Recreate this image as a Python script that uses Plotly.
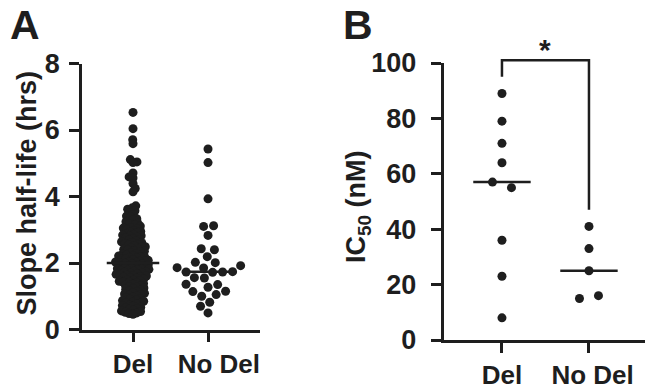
import math
import plotly.graph_objects as go

# ---------------- data ----------------
categories = ["Del", "No Del"]

# Panel A: slope half-life (hrs)
halflife_del = [
    6.53, 6.04, 5.71, 5.59, 5.11, 5.04, 5.02, 4.71, 4.59, 4.56, 4.39, 4.24, 4.14,
    3.72, 3.66, 3.62,
    3.57, 3.52, 3.46, 3.41,
    3.38, 3.33, 3.29, 3.24, 3.21,
    3.18, 3.14, 3.11, 3.07, 3.05, 3.03, 3.01,
    2.98, 2.95, 2.93, 2.91, 2.88, 2.86, 2.84, 2.82, 2.81,
    2.79, 2.76, 2.74, 2.71, 2.69, 2.66, 2.64, 2.62, 2.61,
    2.58, 2.56, 2.55, 2.52, 2.49, 2.47, 2.45, 2.43, 2.41,
    2.39, 2.37, 2.35, 2.33, 2.31, 2.28, 2.26, 2.24, 2.22, 2.21,
    2.19, 2.18, 2.16, 2.15, 2.13, 2.11, 2.10, 2.08, 2.07, 2.05, 2.04, 2.03, 2.02, 2.01,
    1.99, 1.98, 1.96, 1.95, 1.93, 1.92, 1.90, 1.89, 1.87, 1.86, 1.84, 1.83, 1.82, 1.81,
    1.79, 1.78, 1.76, 1.75, 1.73, 1.72, 1.70, 1.69, 1.67, 1.66, 1.64, 1.63, 1.62, 1.61,
    1.59, 1.57, 1.56, 1.54, 1.52, 1.50, 1.48, 1.47, 1.45, 1.43, 1.42, 1.41,
    1.38, 1.36, 1.33, 1.31, 1.29, 1.27, 1.25, 1.23, 1.21,
    1.18, 1.16, 1.14, 1.11, 1.09, 1.07, 1.05, 1.03, 1.01,
    0.98, 0.96, 0.93, 0.91, 0.89, 0.87, 0.85, 0.83, 0.81,
    0.79, 0.77, 0.74, 0.72, 0.70, 0.67, 0.65, 0.63, 0.61,
    0.58, 0.56, 0.54, 0.52, 0.50, 0.48, 0.46,
]
halflife_nodel = [
    5.43, 5.02, 3.93, 3.10, 3.12, 2.83, 2.43, 2.40, 2.19, 2.01, 2.02, 1.92, 1.85,
    1.86, 1.73, 1.74, 1.73, 1.72, 1.55, 1.56, 1.35, 1.27, 1.36, 1.05, 1.15, 1.14,
    1.00, 0.82, 0.70, 0.50,
]

# Panel B: IC50 (nM)
ic50_del = [89, 79, 71, 64, 57, 55, 36, 23, 8]
ic50_nodel = [41, 33, 25, 15, 16]

a_yticks = [0, 2, 4, 6, 8]
b_yticks = [0, 20, 40, 60, 80, 100]
sig_label = "*"

# ---------------- layout geometry ----------------
W, H = 645, 392
INK = "#1e1e1e"
FONT = "Liberation Sans, Arial, sans-serif"
NB = "\u00a0"

A_X0, A_X1 = 82, 260
A_Y0, A_Y1 = 329.5, 63.5          # pixel rows of y=0 and y=8
A_XR = [-0.68, 1.693]
A_YR = [0, 8]

B_X0, B_X1 = 443.5, 645
B_Y0, B_Y1 = 340, 63
B_XR = [-0.672, 1.644]
B_YR = [0, 100]

a_ppx = (A_X1 - A_X0) / (A_XR[1] - A_XR[0])
a_ppy = (A_Y0 - A_Y1) / (A_YR[1] - A_YR[0])
b_ppx = (B_X1 - B_X0) / (B_XR[1] - B_XR[0])
b_ppy = (B_Y0 - B_Y1) / (B_YR[1] - B_YR[0])


def swarm(vals, ppy, ppx, c):
    """Beeswarm offsets (data x-units) with collision distance c in pixels."""
    order = sorted(range(len(vals)), key=lambda i: vals[i])
    placed = []
    offs = [0.0] * len(vals)
    k = 0
    for i in order:
        y = vals[i] * ppy
        ivs = []
        for (py, px) in placed:
            dy = abs(py - y)
            if dy < c:
                d = math.sqrt(c * c - dy * dy)
                ivs.append((px - d, px + d))
        cands = [0.0]
        for a, b in ivs:
            cands += [a, b]
        k += 1
        pref = 1 if k % 2 else -1
        cands.sort(key=lambda x: (round(abs(x), 6), 0 if x * pref >= 0 else 1))
        chosen = 0.0
        for x in cands:
            if all(not (a + 1e-6 < x < b - 1e-6) for a, b in ivs):
                chosen = x
                break
        placed.append((y, chosen))
        offs[i] = chosen / ppx
    return offs


def rows_sym(vals, ppy, ppx, thresh, s):
    """Group nearby values into rows (data order) and spread symmetrically."""
    offs = [0.0] * len(vals)
    used = [False] * len(vals)
    for i in range(len(vals)):
        if used[i]:
            continue
        grp = [i]
        used[i] = True
        for j in range(i + 1, len(vals)):
            if not used[j] and abs(vals[j] - vals[i]) * ppy < thresh:
                grp.append(j)
                used[j] = True
        n = len(grp)
        for r, g in enumerate(grp):
            offs[g] = (r - (n - 1) / 2) * s / ppx
    return offs


def median(v):
    s = sorted(v)
    n = len(s)
    return s[n // 2] if n % 2 else (s[n // 2 - 1] + s[n // 2]) / 2


def b_to_paper(xv, yv):
    px = B_X0 + (xv - B_XR[0]) * b_ppx
    py = B_Y0 - (yv - B_YR[0]) * b_ppy
    return px / W, (H - py) / H


fig = go.Figure()

# ----- Panel A -----
a_groups = [halflife_del, halflife_nodel]
a_coll = [4.0, 10.0]
for gi, vals in enumerate(a_groups):
    offs = swarm(vals, a_ppy, a_ppx, a_coll[gi])
    fig.add_trace(go.Scatter(
        x=[gi + o for o in offs], y=vals, mode="markers",
        marker=dict(size=9, color=INK, line=dict(width=0)),
        xaxis="x", yaxis="y", showlegend=False, hoverinfo="y"))
    m = median(vals)
    fig.add_trace(go.Scatter(
        x=[gi - 0.35, gi + 0.35], y=[m, m], mode="lines",
        line=dict(color=INK, width=2.5), xaxis="x", yaxis="y",
        showlegend=False, hoverinfo="skip"))

# ----- Panel B -----
b_groups = [ic50_del, ic50_nodel]
for gi, vals in enumerate(b_groups):
    offs = rows_sym(vals, b_ppy, b_ppx, 8, 19)
    fig.add_trace(go.Scatter(
        x=[gi + o for o in offs], y=vals, mode="markers",
        marker=dict(size=9, color=INK, line=dict(width=0)),
        xaxis="x2", yaxis="y2", showlegend=False, hoverinfo="y"))
    m = median(vals)
    fig.add_trace(go.Scatter(
        x=[gi - 0.33, gi + 0.33], y=[m, m], mode="lines",
        line=dict(color=INK, width=2.5), xaxis="x2", yaxis="y2",
        showlegend=False, hoverinfo="skip"))

# significance bracket (paper coords derived from data scale, so it is not clipped)
bracket_top = 101
left_bottom = max(ic50_del) + 6
right_bottom = max(ic50_nodel) + 6
p0 = b_to_paper(0, left_bottom)
p1 = b_to_paper(0, bracket_top)
p2 = b_to_paper(1, bracket_top)
p3 = b_to_paper(1, right_bottom)
fig.add_shape(type="path",
              path=f"M {p0[0]},{p0[1]} L {p1[0]},{p1[1]} L {p2[0]},{p2[1]} L {p3[0]},{p3[1]}",
              xref="paper", yref="paper", line=dict(color=INK, width=2.5))

axis_common = dict(showgrid=False, zeroline=False, showline=True, linecolor=INK,
                   linewidth=2.5, ticks="outside", tickcolor=INK, tickwidth=2.5,
                   ticklen=10, automargin=False)
yfont = dict(family=FONT, size=27, color=INK, weight="bold")
xfont = dict(family=FONT, size=26, color=INK, weight="bold")

fig.update_layout(
    template="none",
    width=W, height=H, margin=dict(l=0, r=0, t=0, b=0, pad=0),
    paper_bgcolor="white", plot_bgcolor="white",
    xaxis=dict(domain=[A_X0 / W, A_X1 / W], range=A_XR, tickvals=[0, 1],
               ticktext=[categories[0], NB * 3 + categories[1]], anchor="y",
               tickangle=0, tickfont=xfont, **axis_common),
    yaxis=dict(domain=[(H - A_Y0) / H, (H - A_Y1) / H], range=A_YR,
               tickvals=a_yticks, anchor="x", ticklabelstandoff=4,
               tickfont=yfont, **axis_common),
    xaxis2=dict(domain=[B_X0 / W, B_X1 / W], range=B_XR, tickvals=[0, 1],
                ticktext=[categories[0], NB + categories[1]], anchor="y2",
                tickangle=0, tickfont=xfont, **axis_common),
    yaxis2=dict(domain=[(H - B_Y0) / H, (H - B_Y1) / H], range=B_YR,
                tickvals=b_yticks, anchor="x2", ticklabelstandoff=9,
                tickfont=yfont, **axis_common),
)

ann_font = dict(family=FONT, color=INK, weight="bold")
fig.add_annotation(text="Slope half-life (hrs)", textangle=-90, xref="paper", yref="paper",
                   x=26 / W, y=(H - 193.5) / H, xanchor="center", yanchor="middle",
                   showarrow=False, font=dict(size=27, **ann_font))
fig.add_annotation(text="IC<sub>50</sub> (nM)", textangle=-90, xref="paper", yref="paper",
                   x=358 / W, y=(H - 207) / H, xanchor="center", yanchor="middle",
                   showarrow=False, font=dict(size=27, **ann_font))
fig.add_annotation(text="A", xref="paper", yref="paper", x=8 / W, y=(H - 25) / H,
                   xanchor="left", yanchor="middle", showarrow=False,
                   font=dict(size=41, **ann_font))
fig.add_annotation(text="B", xref="paper", yref="paper", x=341 / W, y=(H - 25) / H,
                   xanchor="left", yanchor="middle", showarrow=False,
                   font=dict(size=41, **ann_font))
sx, _ = b_to_paper(0.5, 0)
fig.add_annotation(text=sig_label, xref="paper", yref="paper", x=sx, y=(H - 50) / H,
                   xanchor="center", yanchor="middle", showarrow=False,
                   font=dict(size=30, **ann_font))

fig.write_html("out.html")
